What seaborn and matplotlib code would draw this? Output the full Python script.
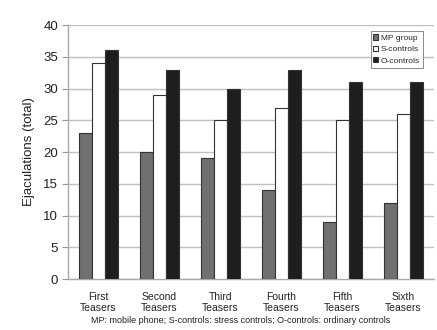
import matplotlib
matplotlib.use("Agg")
import matplotlib.pyplot as plt
import seaborn as sns
import pandas as pd

categories = ["First\nTeasers", "Second\nTeasers", "Third\nTeasers",
              "Fourth\nTeasers", "Fifth\nTeasers", "Sixth\nTeasers"]
mp_group = [23, 20, 19, 14, 9, 12]
s_controls = [34, 29, 25, 27, 25, 26]
o_controls = [36, 33, 30, 33, 31, 31]
series_names = ["MP group", "S-controls", "O-controls"]
y_ticks = [0, 5, 10, 15, 20, 25, 30, 35, 40]
caption = "MP: mobile phone; S-controls: stress controls; O-controls: ordinary controls"

rows = []
for name, vals in zip(series_names, [mp_group, s_controls, o_controls]):
    for c, v in zip(categories, vals):
        rows.append({"cat": c, "series": name, "value": v})
df = pd.DataFrame(rows)

sns.set_style("white")
plt.rcParams['font.family'] = ['Liberation Sans', 'DejaVu Sans']

fig = plt.figure(figsize=(4.37, 3.30), dpi=100)
ax = fig.add_axes([0.1556, 0.1545, 0.8374, 0.7695])

palette = {"MP group": "#707070", "S-controls": "#ffffff", "O-controls": "#1e1e1e"}
sns.barplot(data=df, x="cat", y="value", hue="series", hue_order=series_names,
            order=categories, palette=palette, width=0.64, edgecolor="#333333",
            linewidth=0.8, saturation=1, ax=ax, zorder=3, legend=True)

ax.set_ylim(0, 40)
ax.set_xlim(-0.5, 5.5)
ax.set_yticks(y_ticks)
ax.set_yticklabels([str(t) for t in y_ticks], fontsize=9.5, color="#222222")
ax.yaxis.grid(True, color="#c0c0c0", linewidth=1, zorder=0)
ax.set_axisbelow(True)
ax.set_ylabel("Ejaculations (total)", fontsize=9.5, color="#222222", labelpad=6)
ax.set_xlabel("")
fig.text(0.55, 0.03, caption, fontsize=6.5, color="#222222", ha="center", va="center")

ax.set_xticks(range(len(categories)))
ax.set_xticklabels(categories, fontsize=7.5, color="#222222", linespacing=1.15)
ax.tick_params(axis="x", length=0, pad=9)
ax.set_xticks([i - 0.5 for i in range(len(categories) + 1)], minor=True)
ax.tick_params(axis="x", which="minor", length=4, color="#999999", direction="out")
ax.tick_params(axis="y", length=4, color="#999999", direction="out", pad=3, left=True)

for s in ["top", "right"]:
    ax.spines[s].set_visible(False)
for s in ["left", "bottom"]:
    ax.spines[s].set_color("#aaaaaa")
    ax.spines[s].set_linewidth(1)

leg = ax.legend(loc="upper right", bbox_to_anchor=(0.97, 0.975), fontsize=6,
                frameon=True, fancybox=False, edgecolor="#555555",
                handlelength=0.6, handleheight=0.6, handletextpad=0.3,
                borderpad=0.35, labelspacing=0.45, borderaxespad=0)
leg.get_frame().set_linewidth(0.6)
leg.set_zorder(5)

fig.savefig("out.png", dpi=100)
